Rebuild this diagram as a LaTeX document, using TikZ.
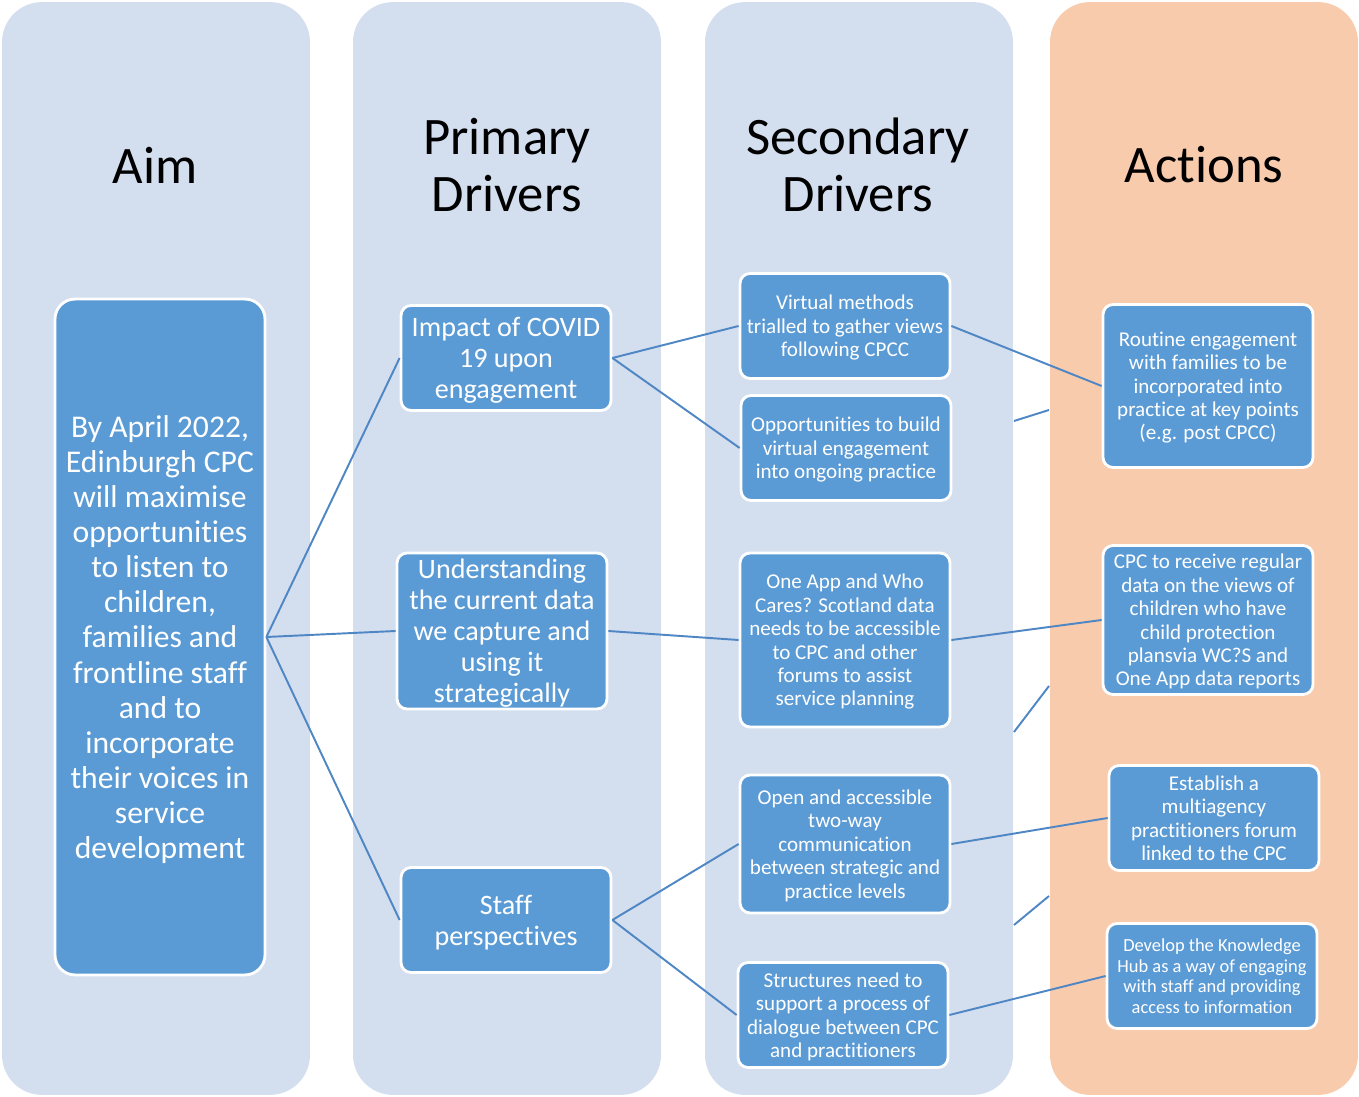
\documentclass[tikz,border=0pt]{standalone}
\usepackage{fontspec}
\setmainfont{Carlito}[RawFeature={-liga;-clig;-calt;-dlig;-rlig}]
\definecolor{lanefill}{HTML}{D3DEEF}
\definecolor{peachfill}{HTML}{F8CBAD}
\definecolor{boxblue}{HTML}{5B9BD5}
\definecolor{linkblue}{HTML}{4F86C4}
\tikzset{
  lane/.style={rounded corners=0.8cm, fill=lanefill, minimum width=6.16cm, minimum height=21.86cm, inner sep=0},
  head/.style={font=\fontsize{30}{32}\selectfont, align=center},
  drvbox/.style={rounded corners=0.2cm, fill=boxblue, draw=white, line width=1.6pt, text=white, align=center, inner sep=0, minimum width=4.2cm, minimum height=2.1cm, text depth=-1pt},
  pfont/.style={font=\fontsize{16}{17.6}\selectfont},
  sfont/.style={font=\fontsize{12}{13.3}\selectfont},
  link/.style={draw=linkblue, line width=1.1pt},
}
\begin{document}
\begin{tikzpicture}[x=0.02cm, y=-0.02cm]
\useasboundingbox (0,0) rectangle (1359,1097);
% lanes
\node[lane] (lane1) at (156,548.5){};
\node[lane] (lane2) at (507,548.5){};
\node[lane] (lane3) at (859,548.5){};
\node[lane, fill=peachfill] (lane4) at (1204,548.5){};
\node[head] (haim) at (155,165){Aim};
\node[head] (hprim) at (507,165){Primary\\Drivers};
\node[head] (hsec) at (858,165){Secondary\\Drivers};
\node[head] (hact) at (1204,165){Actions};
% bits of line seen between the last two lanes
\coordinate (gap1a) at (1014,421);
\coordinate (gap1b) at (1049,410);
\coordinate (gap2a) at (1014,732);
\coordinate (gap2b) at (1049,686);
\coordinate (gap3a) at (1014,925);
\coordinate (gap3b) at (1049,896);
\draw[link](gap1a) -- (gap1b);
\draw[link](gap2a) -- (gap2b);
\draw[link](gap3a) -- (gap3b);
% aim
\node[drvbox, rounded corners=0.4cm, minimum height=13.52cm, font=\fontsize{18}{20}\selectfont] (aim) at (160,637){By April 2022,\\Edinburgh CPC\\will maximise\\opportunities\\to listen to\\children,\\families and\\frontline staff\\and to\\incorporate\\their voices in\\service\\development};
% primary drivers
\node[drvbox, pfont] (prim1) at (506,358){Impact of COVID\\19 upon\\engagement};
\node[drvbox, pfont, minimum height=3.12cm] (prim2) at (502,631){Understanding\\the current data\\we capture and\\using it\\strategically};
\node[drvbox, pfont] (prim3) at (506,920){Staff\\perspectives};
% secondary drivers
\node[drvbox, sfont] (sec1) at (845,326){Virtual methods\\trialled to gather views\\following CPCC};
\node[drvbox, sfont] (sec2) at (846,448){Opportunities to build\\virtual engagement\\into ongoing practice};
\node[drvbox, sfont, minimum height=3.48cm] (sec3) at (845,640){One App and Who\\Cares? Scotland data\\needs to be accessible\\to CPC and other\\forums to assist\\service planning};
\node[drvbox, sfont, minimum height=2.76cm] (sec4) at (845,844){Open and accessible\\two-way\\communication\\between strategic and\\practice levels};
\node[drvbox, sfont] (sec5) at (843,1015){Structures need to\\support a process of\\dialogue between CPC\\and practitioners};
% actions
\node[drvbox, sfont, minimum height=3.26cm] (act1) at (1208,386){Routine engagement\\with families to be\\incorporated into\\practice at key points\\(e.g. post CPCC)};
\node[drvbox, sfont, minimum height=2.98cm] (act2) at (1208,620){CPC to receive regular\\data on the views of\\children who have\\child protection\\plansvia WC?S and\\One App data reports};
\node[drvbox, sfont] (act3) at (1214,818){Establish a\\multiagency\\practitioners forum\\linked to the CPC};
\node[drvbox, font=\fontsize{10.5}{11.7}\selectfont] (act4) at (1212,976){Develop the Knowledge\\Hub as a way of engaging\\with staff and providing\\access to information};
% links
\draw[link](aim.east) -- (prim1.west);
\draw[link](aim.east) -- (prim2.west);
\draw[link](aim.east) -- (prim3.west);
\draw[link](prim1.east) -- (sec1.west);
\draw[link](prim1.east) -- (sec2.west);
\draw[link](prim2.east) -- (sec3.west);
\draw[link](prim3.east) -- (sec4.west);
\draw[link](prim3.east) -- (sec5.west);
\draw[link](sec1.east) -- (act1.west);
\draw[link](sec3.east) -- (act2.west);
\draw[link](sec4.east) -- (act3.west);
\draw[link](sec5.east) -- (act4.west);
\end{tikzpicture}
\end{document}
